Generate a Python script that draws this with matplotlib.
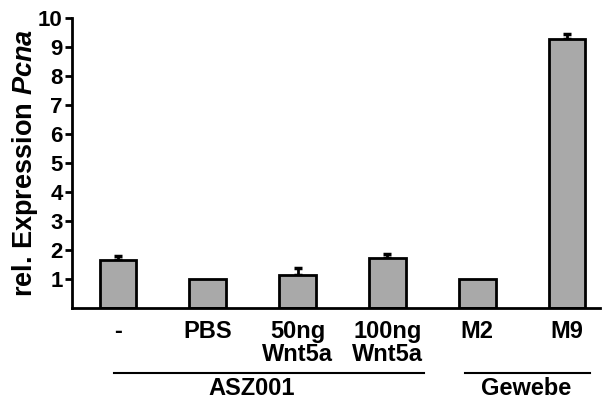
import numpy as np
import matplotlib
matplotlib.use("Agg")
import matplotlib.pyplot as plt

# ── data ────────────────────────────────────────────
categories = ["-", "PBS", "50ng\nWnt5a", "100ng\nWnt5a", "M2", "M9"]
values     = [1.65, 1.0, 1.13, 1.72, 1.0, 9.3]
errors     = [0.13, 0.0, 0.25, 0.14, 0.0, 0.15]
# group name, bracket start, bracket end, label centre (in bar-index units)
groups     = [("ASZ001", -0.04, 3.41, 1.49), ("Gewebe", 3.86, 5.26, 4.54)]
yticks     = [1, 2, 3, 4, 5, 6, 7, 8, 9, 10]
# ───────────────────────────────────────────────────

plt.rcParams["font.family"] = "Liberation Sans"
plt.rcParams["font.weight"] = "bold"
plt.rcParams["mathtext.fontset"] = "custom"
plt.rcParams["mathtext.it"] = "Liberation Sans:italic:bold"
plt.rcParams["mathtext.rm"] = "Liberation Sans:bold"

fig = plt.figure(figsize=(6.02, 4.01), dpi=100)
ax = fig.add_axes([0.12, 0.232, 0.877, 0.722])

x = np.arange(len(categories))
ax.bar(x, values, width=0.41, color="#a9a9a9", edgecolor="black", linewidth=2, zorder=2)
has_err = np.array(errors) > 0
ax.errorbar(x[has_err], np.array(values)[has_err],
            yerr=[np.zeros(has_err.sum()), np.array(errors)[has_err]], fmt="none",
            ecolor="black", elinewidth=2, capsize=3, capthick=2.5, zorder=1)

ax.set_xlim(-0.51, 5.37)
ax.set_ylim(0, 10)
ax.set_yticks(yticks)
ax.set_yticklabels([str(t) for t in yticks], fontsize=16, fontweight="bold")
ax.tick_params(axis="y", direction="out", length=5, width=2, pad=2)
ax.set_xticks([])
for s in ("top", "right"):
    ax.spines[s].set_visible(False)
for s in ("left", "bottom"):
    ax.spines[s].set_linewidth(2)

ax.set_ylabel("rel. Expression $Pcna$", fontsize=19.5, fontweight="bold")
ax.yaxis.set_label_coords(-0.062, 0.5)

# category labels under the axis
for xi, lab in zip(x, categories):
    ax.text(xi, -0.04, lab, transform=ax.get_xaxis_transform(), ha="center", va="top",
            fontsize=17, fontweight="bold", linespacing=1.05)

# group brackets
for name, x0, x1, tx in groups:
    ax.plot([x0, x1], [-0.224, -0.224], color="black", lw=1.5,
            transform=ax.get_xaxis_transform(), clip_on=False)
    ax.text(tx, -0.24, name, transform=ax.get_xaxis_transform(), ha="center", va="top",
            fontsize=17, fontweight="bold")

fig.savefig("out.png", dpi=100)
